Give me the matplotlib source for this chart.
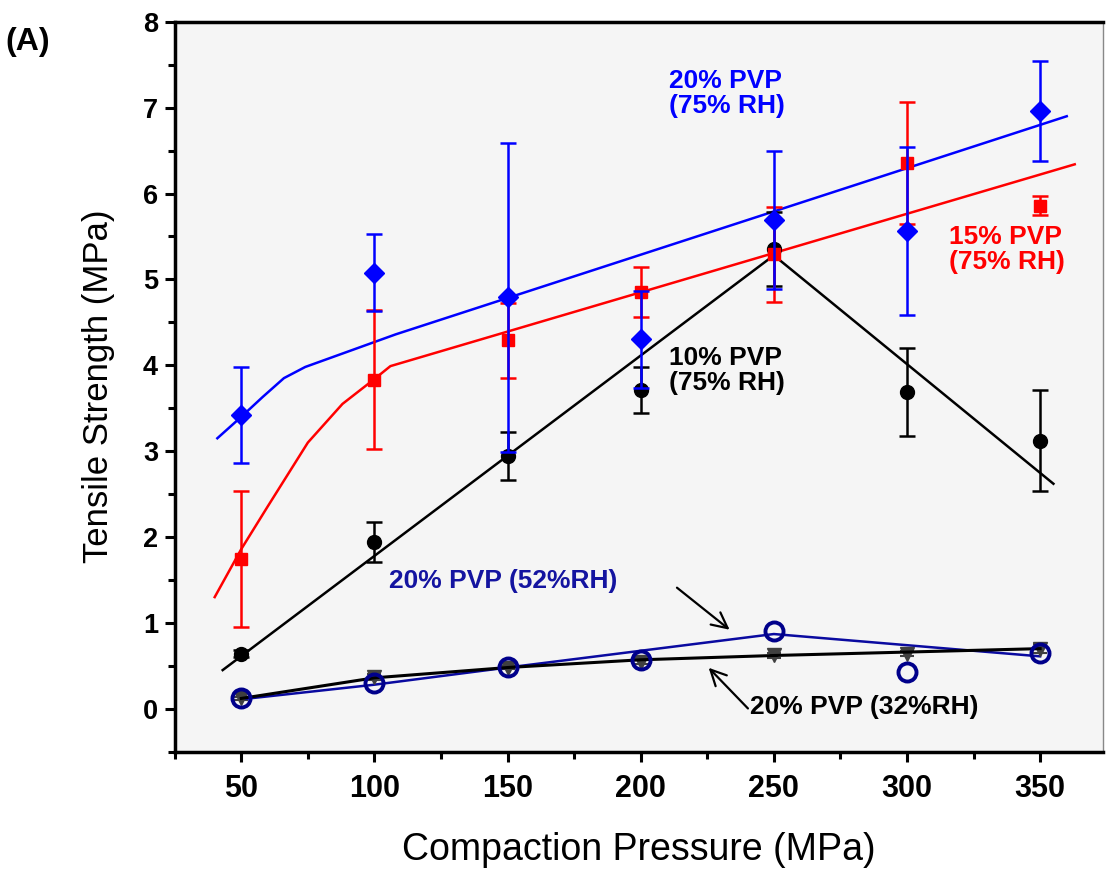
import matplotlib
import matplotlib.pyplot as plt
from matplotlib.ticker import MultipleLocator

matplotlib.use("Agg")
plt.rcParams['font.family'] = ['Liberation Sans', 'DejaVu Sans']

# measured points
pressure = [50, 100, 150, 200, 250, 300, 350]

ts10 = [0.64, 1.94, 2.94, 3.71, 5.35, 3.69, 3.12]
err10 = [0.04, 0.23, 0.28, 0.27, 0.43, 0.51, 0.59]

ts15 = [1.74, 3.83, 4.29, 4.85, 5.29, 6.35, 5.86]
err15 = [0.79, 0.81, 0.44, 0.29, 0.55, 0.71, 0.11]

ts20 = [3.42, 5.08, 4.79, 4.30, 5.69, 5.56, 6.96]
err20 = [0.56, 0.45, 1.80, 0.56, 0.80, 0.98, 0.58]

ts52 = [0.12, 0.30, 0.49, 0.57, 0.91, 0.43, 0.65]

ts32 = [0.12, 0.37, 0.48, 0.55, 0.62, 0.64, 0.70]
err32 = [0.02, 0.04, 0.02, 0.03, 0.03, 0.03, 0.05]

# fitted curves (knots)
fit10_x = [43, 250, 355]
fit10_y = [0.45, 5.28, 2.62]
fit15_x = [40, 50, 60, 75, 88, 100, 106, 363]
fit15_y = [1.30, 1.86, 2.36, 3.10, 3.55, 3.84, 3.99, 6.34]
fit20_x = [41, 50, 58, 66, 74, 108, 360]
fit20_y = [3.15, 3.40, 3.63, 3.85, 3.98, 4.36, 6.90]
fit52_x = [50, 100, 150, 250, 350]
fit52_y = [0.11, 0.28, 0.48, 0.87, 0.61]
fit32_x = [50, 100, 150, 200, 250, 300, 350]
fit32_y = [0.12, 0.36, 0.48, 0.57, 0.62, 0.66, 0.70]

fig = plt.figure(figsize=(11.06, 8.71), dpi=100)
ax = fig.add_axes([0.158, 0.137, 0.839, 0.838])
ax.set_facecolor('#f5f5f5')

# 10% PVP 75% RH
ax.plot(fit10_x, fit10_y, color='black', lw=1.8, zorder=2)
ax.errorbar(pressure, ts10, yerr=err10, fmt='o', color='black', ms=10,
            capsize=6, capthick=1.8, elinewidth=1.8, zorder=3)

# 15% PVP 75% RH
ax.plot(fit15_x, fit15_y, color='red', lw=1.8, zorder=2)
ax.errorbar(pressure, ts15, yerr=err15, fmt='s', color='red', ms=9,
            capsize=6, capthick=1.8, elinewidth=1.8, zorder=3)

# 20% PVP 75% RH
ax.plot(fit20_x, fit20_y, color='blue', lw=1.8, zorder=2)
ax.errorbar(pressure, ts20, yerr=err20, fmt='D', color='blue', ms=10,
            capsize=6, capthick=1.8, elinewidth=1.8, zorder=4)

# 20% PVP 32% RH
ax.errorbar(pressure, ts32, yerr=err32, fmt='v', color='#404040', ms=10,
            capsize=5, capthick=1.5, elinewidth=1.5, zorder=3)
ax.plot(fit32_x, fit32_y, color='black', lw=2.2, zorder=4)

# 20% PVP 52% RH
ax.plot(fit52_x, fit52_y, color='#0a0aa0', lw=1.8, zorder=3)
ax.plot(pressure, ts52, 'o', ms=13, mfc='none', mec='#00008b', mew=2.8, zorder=5)

ax.set_xlim(25, 373.5)
ax.set_ylim(-0.5, 8)
ax.xaxis.set_major_locator(MultipleLocator(50))
ax.xaxis.set_minor_locator(MultipleLocator(25))
ax.yaxis.set_major_locator(MultipleLocator(1))
ax.yaxis.set_minor_locator(MultipleLocator(0.5))

ax.tick_params(axis='both', which='major', direction='out', length=7, width=2.2)
ax.tick_params(axis='both', which='minor', direction='out', length=5, width=2.2)
ax.tick_params(axis='x', labelsize=22, pad=9)
ax.tick_params(axis='y', labelsize=19.5, pad=5)
for lab in ax.get_xticklabels() + ax.get_yticklabels():
    lab.set_fontweight('bold')

for side in ['left', 'bottom', 'top']:
    ax.spines[side].set_linewidth(2.5)
ax.spines['right'].set_linewidth(1)
ax.spines['right'].set_color('#888888')

ax.set_xlabel('Compaction Pressure (MPa)', fontsize=27, labelpad=20)
ax.set_ylabel('Tensile Strength (MPa)', fontsize=25, labelpad=20)

# labels
ax.text(210.5, 7.16, '20% PVP\n(75% RH)', color='blue', fontsize=19,
        fontweight='bold', va='center', ha='left', linespacing=1.05)
ax.text(315.8, 5.35, '15% PVP\n(75% RH)', color='red', fontsize=19,
        fontweight='bold', va='center', ha='left', linespacing=1.05)
ax.text(210.5, 3.94, '10% PVP\n(75% RH)', color='black', fontsize=19,
        fontweight='bold', va='center', ha='left', linespacing=1.05)
ax.text(105.3, 1.49, '20% PVP (52%RH)', color='#1414a0', fontsize=19,
        fontweight='bold', va='center', ha='left')
ax.text(241, 0.02, '20% PVP (32%RH)', color='black', fontsize=19,
        fontweight='bold', va='center', ha='left')

ax.annotate('', xy=(234.2, 0.90), xytext=(212.8, 1.43),
            arrowprops=dict(arrowstyle='->', lw=1.6, color='black', mutation_scale=28))
ax.annotate('', xy=(224.8, 0.50), xytext=(241, -0.02),
            arrowprops=dict(arrowstyle='->', lw=1.6, color='black', mutation_scale=28))

fig.text(0.005, 0.952, '(A)', fontsize=23, fontweight='bold',
         va='center', ha='left')

fig.savefig('out.png', dpi=100)
